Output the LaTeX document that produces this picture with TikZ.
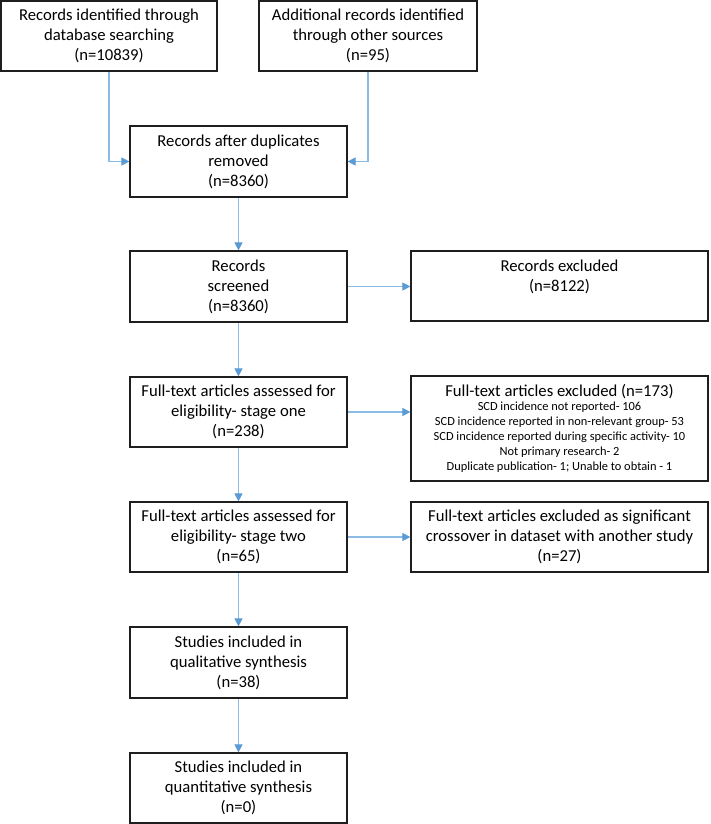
\documentclass[tikz,border=0pt]{standalone}
\usepackage{fontspec}
\setmainfont{Carlito}
\usetikzlibrary{arrows.meta}
\definecolor{arrowblue}{RGB}{91,155,213}
\definecolor{lineblue}{RGB}{140,188,230}
\definecolor{boxline}{RGB}{30,30,30}
\begin{document}
\begin{tikzpicture}[x=0.75pt,y=-0.75pt,
  box/.style={draw=boxline,line width=0.9pt,align=center,inner sep=0pt,
    font=\fontsize{12.5}{15}\selectfont},
  conn/.style={draw=lineblue,line width=0.8pt,
    -{Triangle[length=6pt,width=6pt,color=arrowblue]}}]
\useasboundingbox (0,0) rectangle (710,824);
\fill[white] (0,0) rectangle (710,824);
\newcommand{\bx}[7][]{% options, name, x1,y1,x2,y2, text
  \node[box,minimum width={(#5-#3)*0.75pt},minimum height={(#6-#4)*0.75pt},#1] (#2) at ({(#3+#5)/2},{(#4+#6)/2}) {#7};}
\bx{b1}{1}{1}{217}{71}{Records identified through\\database searching\\(n=10839)}
\bx{b2}{259}{1}{477}{71}{Additional records identified\\through other sources\\(n=95)}
\bx{b3}{130}{126}{347}{197}{Records after duplicates\\removed\\(n=8360)}
\bx{b4}{130}{251}{347}{322}{Records\\screened\\(n=8360)}
\bx{b5}{411}{251}{708}{321}{Records excluded\\(n=8122)\\\mbox{}}
\bx[font=\fontsize{9.3}{11.25}\selectfont]{b7}{411}{376}{708}{481}{{\fontsize{12.5}{15}\selectfont Full-text articles excluded (n=173)}\\[-0.5pt]
  SCD incidence not reported- 106\\
  SCD incidence reported in non-relevant group- 53\\
  SCD incidence reported during specific activity- 10\\
  Not primary research- 2\\
  Duplicate publication- 1; Unable to obtain - 1}
\bx{b6}{130}{377}{347}{447}{Full-text articles assessed for\\eligibility- stage one\\(n=238)}
\bx{b8}{130}{502}{347}{572}{Full-text articles assessed for\\eligibility- stage two\\(n=65)}
\bx{b9}{411}{502}{708}{572}{Full-text articles excluded as significant\\crossover in dataset with another study\\(n=27)}
\bx{b10}{130}{627}{347}{698}{Studies included in\\qualitative synthesis\\(n=38)}
\bx{b11}{130}{753}{347}{823}{Studies included in\\quantitative synthesis\\(n=0)}
\draw[conn] (b1.south) |- (b3.west);
\draw[conn] (b2.south) |- (b3.east);
\draw[conn] (b3.south) -- (b4.north);
\draw[conn] (b4.east) -- (b4.east -| b5.west);
\draw[conn] (b4.south) -- (b6.north);
\draw[conn] (b6.east) -- (b6.east -| b7.west);
\draw[conn] (b6.south) -- (b8.north);
\draw[conn] (b8.east) -- (b8.east -| b9.west);
\draw[conn] (b8.south) -- (b10.north);
\draw[conn] (b10.south) -- (b11.north);
\end{tikzpicture}
\end{document}
